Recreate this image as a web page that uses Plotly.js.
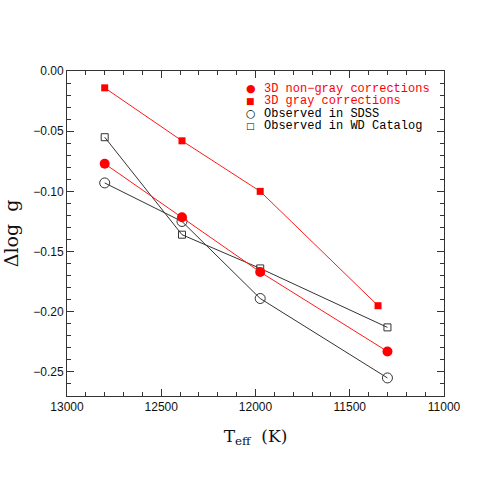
<!DOCTYPE html>
<html><head><meta charset="utf-8">
<script src="https://cdn.plot.ly/plotly-3.0.1.min.js"></script>
<style>body{margin:0;background:#fff}#c{width:485px;height:485px}</style>
</head><body><div id="c"></div>
<script>
// Data
const teffNonGray = [12800, 12390, 11975, 11300];
const dloggNonGray = [-0.077, -0.1215, -0.167, -0.233];
const teffGray = [12800, 12390, 11975, 11350];
const dloggGray = [-0.014, -0.058, -0.100, -0.195];
const teffSDSS = [12800, 12390, 11975, 11300];
const dloggSDSS = [-0.093, -0.125, -0.189, -0.255];
const teffWD = [12800, 12390, 11975, 11300];
const dloggWD = [-0.055, -0.136, -0.164, -0.213];
const xTicks = [13000, 12500, 12000, 11500, 11000];
const yTicks = [0, -0.05, -0.1, -0.15, -0.2, -0.25];
const legendLabels = ["3D non\u2212gray corrections", "3D gray corrections", "Observed in SDSS", "Observed in WD Catalog"];
const legendSymbols = ["\u25CF", "\u25A0", "\u25CB", "\u25A1"];
const legendColors = ["#ff0000", "#ff0000", "#000000", "#000000"];

const red = "#ff1a1a", dark = "#333333";
const traces = [
  {x: teffSDSS, y: dloggSDSS, mode: "lines+markers", line: {color: dark, width: 1},
   marker: {symbol: "circle-open", size: 10, color: dark, line: {width: 1}}},
  {x: teffWD, y: dloggWD, mode: "lines+markers", line: {color: dark, width: 1},
   marker: {symbol: "square-open", size: 7, color: dark, line: {width: 1}}},
  {x: teffNonGray, y: dloggNonGray, mode: "lines+markers", line: {color: red, width: 1},
   marker: {symbol: "circle", size: 10, color: "#ff0000"}},
  {x: teffGray, y: dloggGray, mode: "lines+markers", line: {color: red, width: 1},
   marker: {symbol: "square", size: 7, color: "#ff0000"}}
];

const annotations = [];
legendLabels.forEach((t, i) => {
  const yy = 0.945 - i * 0.0385;
  annotations.push({xref: "paper", yref: "paper", x: 0.488, y: yy, xanchor: "center", yanchor: "middle",
    text: legendSymbols[i], showarrow: false, borderpad: 0,
    font: {family: "DejaVu Sans", size: i % 2 ? 9 : 11, color: legendColors[i]}});
  annotations.push({xref: "paper", yref: "paper", x: 0.52, y: yy, xanchor: "left", yanchor: "middle",
    text: t, showarrow: false, borderpad: 0,
    font: {family: "Liberation Mono", size: 12, color: legendColors[i]}});
});

const layout = {
  width: 485, height: 485,
  margin: {l: 67, r: 41, t: 71, b: 89},
  showlegend: false,
  paper_bgcolor: "#fff", plot_bgcolor: "#fff",
  font: {family: "Liberation Sans", size: 12, color: "#111"},
  xaxis: {range: [13000, 11000], tickvals: xTicks, tickformat: "d",
    ticks: "inside", ticklen: 7, tickcolor: "#333", mirror: "allticks", showline: true, linecolor: "#333", linewidth: 1,
    showgrid: false, zeroline: false, tickfont: {size: 12},
    minor: {dtick: 100, ticks: "inside", ticklen: 4, tickcolor: "#333", showgrid: false},
    title: {text: "T<sub>eff</sub>  (K)", font: {family: "DejaVu Serif", size: 17}, standoff: 16}},
  yaxis: {range: [-0.27, 0], tickvals: yTicks, tickformat: ".2f",
    ticks: "inside", ticklen: 7, tickcolor: "#333", mirror: "allticks", showline: true, linecolor: "#333", linewidth: 1,
    showgrid: false, zeroline: false, tickfont: {size: 12},
    minor: {dtick: 0.01, ticks: "inside", ticklen: 4, tickcolor: "#333", showgrid: false},
    title: {text: "\u0394log  g", font: {family: "DejaVu Serif", size: 19}, standoff: 10}},
  annotations: annotations
};
Plotly.newPlot("c", traces, layout, {displayModeBar: false, staticPlot: true});
</script></body></html>
